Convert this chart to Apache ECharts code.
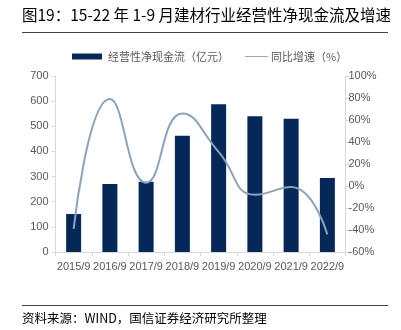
<!DOCTYPE html>
<html>
<head>
<meta charset="utf-8">
<script src="https://cdn.jsdelivr.net/npm/echarts@6/dist/echarts.min.js"></script>
<style>
html,body{margin:0;padding:0;background:#fff;}
#chart{width:401px;height:330px;}
</style>
</head>
<body>
<div id="chart"></div>
<script>
const categories = ['2015/9','2016/9','2017/9','2018/9','2019/9','2020/9','2021/9','2022/9'];
const cashFlow = [151, 270, 279, 462, 588, 540, 530, 294];
const growth = [-39, 79, 3, 66, 31, -8, -1, -44];
const leftTicks = {min: 0, max: 700, interval: 100};
const rightTicks = {min: -60, max: 100, interval: 20};
const titleText = '图19：15-22 年 1-9 月建材行业经营性净现金流及增速';
const sourceText = '资料来源：WIND，国信证券经济研究所整理';
const barName = '经营性净现金流（亿元）';
const lineName = '同比增速（%）';

const chart = echarts.init(document.getElementById('chart'), null, {renderer: 'canvas'});
const cjk = '"Noto Sans CJK SC", sans-serif';
const latin = '"Liberation Sans", Arial, sans-serif';
const axisGray = '#d9d9d9';
const labelGray = '#595959';

chart.setOption({
  animation: false,
  backgroundColor: '#fff',
  graphic: [
    {type: 'text', left: 22, top: 7, style: {text: titleText, font: '15.5px ' + cjk, fill: '#000'}},
    {type: 'line', shape: {x1: 22, y1: 32.5, x2: 388, y2: 32.5}, style: {stroke: '#404040', lineWidth: 1}},
    {type: 'line', shape: {x1: 22, y1: 305.5, x2: 388, y2: 305.5}, style: {stroke: '#404040', lineWidth: 1}},
    {type: 'text', left: 22, top: 312, style: {text: sourceText, font: '12.5px ' + cjk, fill: '#000'}}
  ],
  legend: [
    {
      left: 67, top: 46, itemWidth: 30, itemHeight: 6, itemGap: 5,
      data: [{name: barName, icon: 'rect'}],
      textStyle: {fontSize: 11, color: labelGray, fontFamily: cjk, padding: [0,0,0,1]}
    },
    {
      left: 240, top: 46, itemWidth: 23, itemHeight: 6, itemGap: 5,
      data: [{name: lineName, icon: 'path://M0,48 L100,48 L100,52 L0,52 Z'}],
      textStyle: {fontSize: 11, color: labelGray, fontFamily: cjk, padding: [0,0,0,-2]}
    }
  ],
  grid: {left: 55.5, right: 55.5, top: 76, bottom: 78, containLabel: false},
  xAxis: {
    type: 'category',
    data: categories,
    boundaryGap: true,
    axisLine: {lineStyle: {color: axisGray}},
    axisTick: {show: true, length: 4, lineStyle: {color: axisGray}, alignWithLabel: false},
    axisLabel: {color: labelGray, fontSize: 11, fontFamily: latin, margin: 9, interval: 0}
  },
  yAxis: [
    {
      type: 'value', min: leftTicks.min, max: leftTicks.max, interval: leftTicks.interval,
      axisLine: {show: true, lineStyle: {color: axisGray}},
      axisTick: {show: true, length: 4, lineStyle: {color: axisGray}},
      splitLine: {show: false},
      axisLabel: {color: labelGray, fontSize: 11, fontFamily: latin, margin: 7}
    },
    {
      type: 'value', min: rightTicks.min, max: rightTicks.max, interval: rightTicks.interval,
      position: 'right',
      axisLine: {show: true, lineStyle: {color: axisGray}},
      axisTick: {show: true, length: 4, lineStyle: {color: axisGray}},
      splitLine: {show: false},
      axisLabel: {color: labelGray, fontSize: 11, fontFamily: latin, margin: 3, formatter: '{value}%'}
    }
  ],
  series: [
    {
      name: barName, type: 'bar', data: cashFlow, yAxisIndex: 0,
      barWidth: 15,
      itemStyle: {color: '#052858'}
    },
    {
      name: lineName, type: 'line', data: growth, yAxisIndex: 1,
      smooth: 0.5, symbol: 'none', showSymbol: false,
      lineStyle: {color: '#8ca2bb', width: 2},
      itemStyle: {color: '#8ca2bb'},
      z: 5
    }
  ]
});
</script>
</body>
</html>
